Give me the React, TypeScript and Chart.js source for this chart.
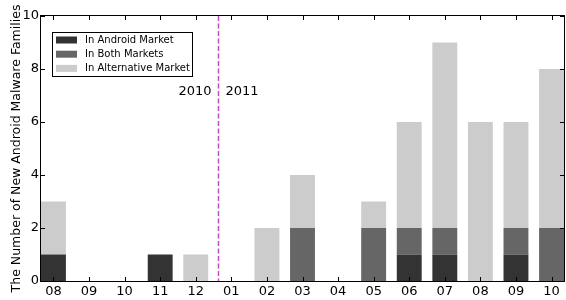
import React, { useEffect, useRef } from "react";
import { Chart, registerables } from "chart.js";

Chart.register(...registerables);

const categories = ["08", "09", "10", "11", "12", "01", "02", "03", "04", "05", "06", "07", "08", "09", "10"];
const androidMarket = [1, 0, 0, 1, 0, 0, 0, 0, 0, 0, 1, 1, 0, 1, 0];
const bothMarkets = [0, 0, 0, 0, 0, 0, 0, 2, 0, 2, 1, 1, 0, 1, 2];
const alternativeMarket = [2, 0, 0, 0, 1, 0, 2, 2, 0, 1, 4, 7, 6, 4, 6];
const yTicks = [0, 2, 4, 6, 8, 10];
const seriesNames = ["In Android Market", "In Both Markets", "In Alternative Market"];
const seriesColors = ["#333333", "#666666", "#cccccc"];
const yearDivider = 4.63;
const yearTextY = 7.15;
const yearLabels = ["2010", "2011"];
const yTitle = "The Number of New Android Malware Families";

const FONT = "'DejaVu Sans', sans-serif";

const framePlugin = {
  id: "framePlugin",
  afterDatasetsDraw(chart: any) {
    const { ctx, chartArea } = chart;
    const xs = chart.scales.x;
    const ys = chart.scales.y;
    const { left, right, top, bottom } = chartArea;
    ctx.save();
    // dashed year divider
    const dx = Math.round(xs.getPixelForValue(yearDivider)) + 0.5;
    ctx.strokeStyle = "#c04cc8";
    ctx.lineWidth = 1.5;
    ctx.setLineDash([5, 2.5]);
    ctx.beginPath();
    ctx.moveTo(dx, top);
    ctx.lineTo(dx, bottom);
    ctx.stroke();
    ctx.setLineDash([]);
    // year labels
    ctx.fillStyle = "#000";
    ctx.font = `13px ${FONT}`;
    ctx.textBaseline = "middle";
    const ty = ys.getPixelForValue(yearTextY);
    ctx.textAlign = "right";
    ctx.fillText(yearLabels[0], dx - 7, ty);
    ctx.textAlign = "left";
    ctx.fillText(yearLabels[1], dx + 7, ty);
    // frame
    ctx.strokeStyle = "#000";
    ctx.lineWidth = 1;
    ctx.strokeRect(left - 0.5, top - 0.5, right - left + 1, bottom - top + 1);
    // inward ticks
    const tl = 4;
    ctx.beginPath();
    categories.forEach((_, i) => {
      const px = Math.round(xs.getPixelForValue(i)) + 0.5;
      ctx.moveTo(px, bottom);
      ctx.lineTo(px, bottom - tl);
      ctx.moveTo(px, top);
      ctx.lineTo(px, top + tl);
    });
    yTicks.forEach((v) => {
      const py = Math.round(ys.getPixelForValue(v)) + 0.5;
      ctx.moveTo(left, py);
      ctx.lineTo(left + tl, py);
      ctx.moveTo(right, py);
      ctx.lineTo(right - tl, py);
    });
    ctx.stroke();
    // y title
    ctx.save();
    ctx.translate(17, (top + bottom) / 2);
    ctx.rotate(-Math.PI / 2);
    ctx.font = `12.5px ${FONT}`;
    ctx.textAlign = "center";
    ctx.textBaseline = "middle";
    ctx.fillText(yTitle, 0, 0);
    ctx.restore();
    // legend
    const lx = 52.5, ly = 32.5, lw = 140, lh = 44;
    ctx.fillStyle = "#fff";
    ctx.fillRect(lx, ly, lw, lh);
    ctx.strokeStyle = "#000";
    ctx.strokeRect(lx, ly, lw, lh);
    ctx.font = `10px ${FONT}`;
    ctx.textAlign = "left";
    ctx.textBaseline = "middle";
    seriesNames.forEach((name, i) => {
      const ry = 40 + i * 14.2;
      ctx.fillStyle = seriesColors[i];
      ctx.fillRect(56, ry - 3.5, 21, 7);
      ctx.fillStyle = "#000";
      ctx.fillText(name, 85, ry);
    });
    ctx.restore();
  },
};

export default function App() {
  const ref = useRef<HTMLCanvasElement>(null);
  useEffect(() => {
    document.body.style.margin = "0";
    const series = [androidMarket, bothMarkets, alternativeMarket];
    const chart = new Chart(ref.current!, {
      type: "bar",
      data: {
        datasets: series.map((vals, s) => ({
          label: seriesNames[s],
          data: vals.map((v, i) => ({ x: i, y: v })),
          backgroundColor: seriesColors[s],
          borderWidth: 0,
          categoryPercentage: 1,
          barPercentage: 0.7,
        })),
      },
      options: {
        animation: false,
        responsive: false,
        layout: { padding: { top: 16, right: 2, left: 0, bottom: 0 } },
        plugins: { legend: { display: false }, tooltip: { enabled: false } },
        scales: {
          x: {
            type: "linear",
            stacked: true,
            offset: false,
            min: -0.35,
            max: 14.35,
            grid: { display: false, drawTicks: false, offset: false },
            border: { display: false },
            afterBuildTicks: (scale: any) => {
              scale.ticks = categories.map((_, i) => ({ value: i }));
            },
            afterFit: (scale: any) => {
              scale.height = 19;
            },
            ticks: {
              autoSkip: false,
              maxRotation: 0,
              padding: 3,
              color: "#000",
              font: { family: FONT, size: 13 },
              callback: (v: any) => categories[v] ?? "",
            },
          },
          y: {
            stacked: true,
            min: 0,
            max: 10,
            grid: { display: false, drawTicks: false },
            border: { display: false },
            afterBuildTicks: (scale: any) => {
              scale.ticks = yTicks.map((v) => ({ value: v }));
            },
            afterFit: (scale: any) => {
              scale.width = 41;
            },
            ticks: {
              padding: 2,
              color: "#000",
              font: { family: FONT, size: 13 },
            },
          },
        },
      },
      plugins: [framePlugin],
    } as any);
    return () => chart.destroy();
  }, []);
  return <canvas ref={ref} width={566} height={300} style={{ display: "block" }} />;
}
